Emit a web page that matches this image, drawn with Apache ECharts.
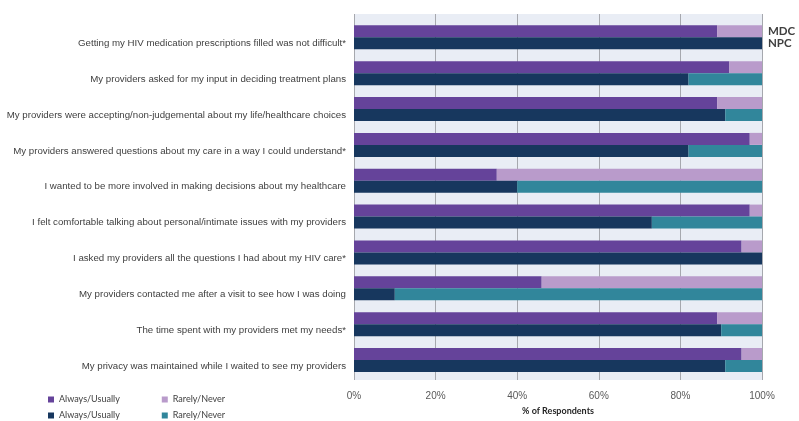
<!DOCTYPE html>
<html>
<head>
<meta charset="utf-8">
<script src="https://cdn.jsdelivr.net/npm/echarts@6/dist/echarts.min.js"></script>
<style>
html,body{margin:0;padding:0;background:#fff;}
#main{width:799px;height:421px;}
</style>
</head>
<body>
<div id="main"></div>
<script>
var categories = [
  "Getting my HIV medication prescriptions filled was not difficult*",
  "My providers asked for my input in deciding treatment plans",
  "My providers were accepting/non-judgemental about my life/healthcare choices",
  "My providers answered questions about my care in a way I could understand*",
  "I wanted to be more involved in making decisions about my healthcare",
  "I felt comfortable talking about personal/intimate issues with my providers",
  "I asked my providers all the questions I had about my HIV care*",
  "My providers contacted me after a visit to see how I was doing",
  "The time spent with my providers met my needs*",
  "My privacy was maintained while I waited to see my providers"
];
var mdcAlways = [89, 92, 89, 97, 35, 97, 95, 46, 89, 95];
var mdcRarely = [11, 8, 11, 3, 65, 3, 5, 54, 11, 5];
var npcAlways = [100, 82, 91, 82, 40, 73, 100, 10, 90, 91];
var npcRarely = [0, 18, 9, 18, 60, 27, 0, 90, 10, 9];
var xTicks = [0, 20, 40, 60, 80, 100];
var groupLabels = ["MDC", "NPC"];

var chart = echarts.init(document.getElementById('main'), null, {renderer: 'canvas'});

function withFirstLabel(arr, text) {
  return arr.map(function (v, i) {
    if (i === 0) {
      return {
        value: v,
        label: {
          show: true, position: 'right', distance: 6, formatter: text,
          fontFamily: 'Lato', fontWeight: 'bold', fontSize: 11.5, color: '#404040'
        }
      };
    }
    return v;
  });
}

var legendFmt = function (n) { return n.replace(/^(MDC|NPC) /, ''); };
var legendText = {fontFamily: 'Lato', fontSize: 9, color: '#404040'};

var option = {
  animation: false,
  backgroundColor: '#ffffff',
  grid: [
    {left: 354, right: 37, top: 14, bottom: 38, show: true, backgroundColor: '#E9EDF5', borderWidth: 0},
    {left: 354, right: 37, top: 19.4, bottom: 43.1}
  ],
  legend: [
    {
      left: 43, top: 390, orient: 'horizontal', itemWidth: 6, itemHeight: 6, itemGap: 42, icon: 'rect',
      data: ['MDC Always/Usually', 'MDC Rarely/Never'],
      formatter: legendFmt, textStyle: legendText
    },
    {
      left: 43, top: 406, orient: 'horizontal', itemWidth: 6, itemHeight: 6, itemGap: 42, icon: 'rect',
      data: ['NPC Always/Usually', 'NPC Rarely/Never'],
      formatter: legendFmt, textStyle: legendText
    }
  ],
  xAxis: [
    {
      gridIndex: 0, type: 'value', min: 0, max: 100, interval: 20,
      axisLine: {show: false}, axisTick: {show: false},
      splitLine: {show: true, lineStyle: {color: '#A6A8AE', width: 1}},
      axisLabel: {formatter: '{value}%', fontFamily: 'Liberation Sans', fontSize: 10, color: '#595959', margin: 11},
      name: '% of Respondents', nameLocation: 'middle', nameGap: 27,
      nameTextStyle: {fontFamily: 'Lato', fontWeight: 'bold', fontSize: 9, color: '#262626'}
    },
    {gridIndex: 1, type: 'value', min: 0, max: 100, show: false}
  ],
  yAxis: [
    {gridIndex: 0, type: 'value', show: false, min: 0, max: 1},
    {
      gridIndex: 1, type: 'category', inverse: true, data: categories,
      axisLine: {show: false}, axisTick: {show: false}, splitLine: {show: false},
      axisLabel: {
        fontFamily: 'Liberation Sans', fontSize: 9.7, color: '#404040', margin: 8,
        verticalAlign: 'top', lineHeight: 12
      }
    }
  ],
  series: [
    {
      name: 'MDC Always/Usually', type: 'bar', xAxisIndex: 1, yAxisIndex: 1, stack: 'MDC',
      barWidth: 12, barGap: '0%', itemStyle: {color: '#65439A'}, data: mdcAlways
    },
    {
      name: 'MDC Rarely/Never', type: 'bar', xAxisIndex: 1, yAxisIndex: 1, stack: 'MDC',
      barWidth: 12, barGap: '0%', itemStyle: {color: '#B99BCB'}, data: withFirstLabel(mdcRarely, groupLabels[0])
    },
    {
      name: 'NPC Always/Usually', type: 'bar', xAxisIndex: 1, yAxisIndex: 1, stack: 'NPC',
      barWidth: 12, barGap: '0%', itemStyle: {color: '#17375E'}, data: npcAlways
    },
    {
      name: 'NPC Rarely/Never', type: 'bar', xAxisIndex: 1, yAxisIndex: 1, stack: 'NPC',
      barWidth: 12, barGap: '0%', itemStyle: {color: '#31869B'}, data: withFirstLabel(npcRarely, groupLabels[1])
    }
  ]
};
chart.setOption(option);
</script>
</body>
</html>
